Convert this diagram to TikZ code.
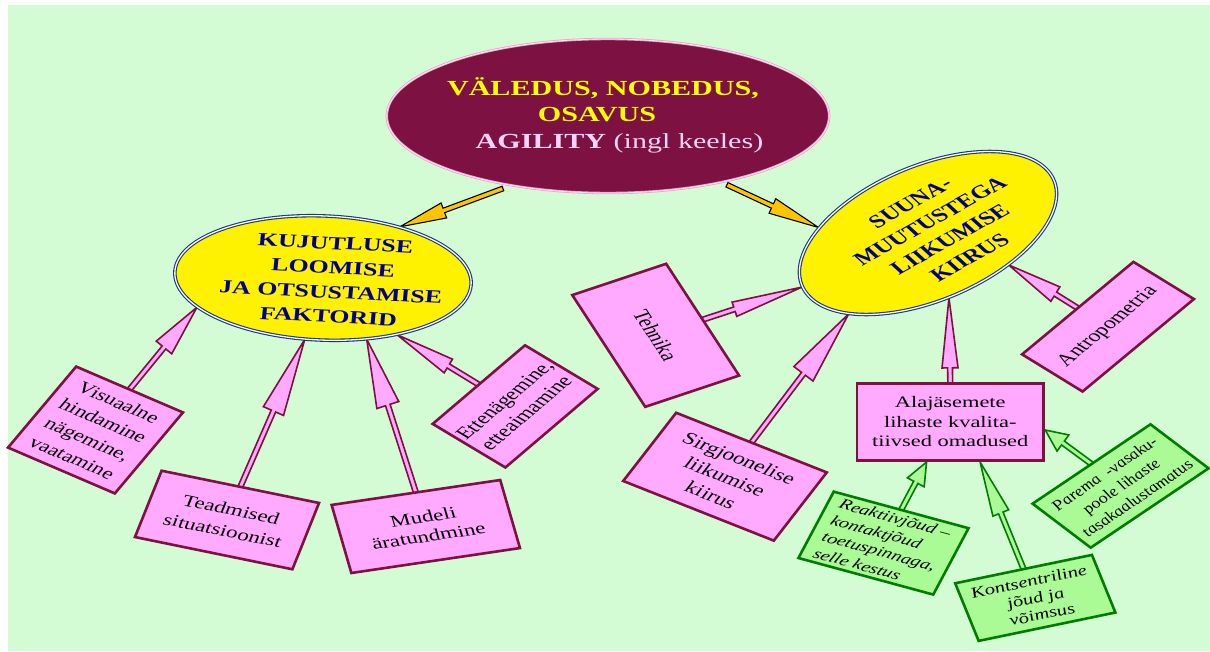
\documentclass[tikz,border=0pt]{standalone}
\usepackage{fontspec}
\setmainfont{Liberation Serif}
\usetikzlibrary{calc,shapes.geometric}
\pgfdeclarelayer{backdrop}
\pgfdeclarelayer{links}
\pgfsetlayers{backdrop,links,main}

\definecolor{bggreen}{RGB}{212,252,212}
\definecolor{maroon}{RGB}{124,17,66}
\definecolor{pinkfill}{RGB}{255,170,255}
\definecolor{greenfill}{RGB}{170,250,150}
\definecolor{darkgreen}{RGB}{0,125,0}
\definecolor{navytext}{RGB}{0,0,140}
\definecolor{rimblue}{RGB}{20,50,170}
\definecolor{rimlight}{RGB}{255,255,190}
\definecolor{rimpink}{RGB}{240,160,205}
\definecolor{rimwhite}{RGB}{255,235,245}
\definecolor{gold}{RGB}{255,196,0}
\definecolor{titleyellow}{RGB}{255,255,0}
\definecolor{titlepink}{RGB}{250,212,250}

% block arrow: style, tail, tip, head length, head half width
\newcommand\shafthalf{2.4pt}
\newcommand\blockarrow[5]{%
  \path (#2) coordinate (ba-tail) (#3) coordinate (ba-tip);
  \path ($(ba-tip)!#4!(ba-tail)$) coordinate (ba-neck);
  \draw[#1] ($(ba-tail)!\shafthalf!90:(ba-tip)$)
    -- ($(ba-neck)!\shafthalf!90:(ba-tip)$)
    -- ($(ba-neck)!#5!90:(ba-tip)$)
    -- (ba-tip)
    -- ($(ba-neck)!#5!-90:(ba-tip)$)
    -- ($(ba-neck)!\shafthalf!-90:(ba-tip)$)
    -- ($(ba-tail)!\shafthalf!-90:(ba-tip)$) -- cycle;
}

\tikzset{
  pinkbox/.style={draw=maroon, line width=2.6pt, fill=pinkfill, inner sep=0pt,
    align=center, font=\fontsize{16.5}{21}\selectfont},
  greenbox/.style={draw=darkgreen, line width=2.6pt, fill=greenfill, inner sep=0pt,
    align=center, font=\itshape\fontsize{14.5}{17.5}\selectfont},
  goal/.style={ellipse, inner sep=0pt, fill=yellow, draw=rimblue, line width=1.1pt,
    double=rimlight, double distance=1.3pt, minimum width=212pt, minimum height=124pt},
  goaltext/.style={align=center, text=navytext, font=\bfseries\fontsize{18.5}{24.5}\selectfont},
  titletext/.style={anchor=base, font=\fontsize{21.5}{26}\selectfont},
  pinkarrow/.style={draw=maroon, fill=pinkfill, line width=1.6pt},
  greenarrow/.style={draw=darkgreen, fill=greenfill, line width=1.6pt},
  goldarrow/.style={draw=black, fill=gold, line width=1.1pt},
}

\begin{document}
\begin{tikzpicture}[x=1pt,y=-1pt]
\useasboundingbox (0,0) rectangle (1210,651);
\begin{pgfonlayer}{backdrop}
  \fill[white] (0,0) rectangle (1210,651);
  \fill[bggreen] (8,5) rectangle (1210,651);
\end{pgfonlayer}

\begin{scope}[x=0.7142857pt, xscale=1.4, every node/.append style={transform shape}]
  % main concept
  \node[ellipse, inner sep=0pt, minimum width=316pt, minimum height=154pt,
        fill=maroon, draw=rimpink, line width=0.8pt, double=rimwhite, double distance=0.8pt]
        (ctr) at (608,116) {};
  \node[titletext, text=titleyellow, font=\bfseries\fontsize{21.5}{26}\selectfont]
        (ctr1) at (603,95) {VÄLEDUS, NOBEDUS,};
  \node[titletext, text=titleyellow, font=\bfseries\fontsize{21.5}{26}\selectfont]
        (ctr2) at (597,121) {OSAVUS};
  \node[titletext, text=titlepink] (ctr3) at (619.5,148) {\textbf{AGILITY} (ingl keeles)};

  % the two factor groups
  \node[goal, rotate=-4] (kuj) at (323,278) {};
  \node[goaltext, rotate=-4] (kujtxt) at (332,280)
        {KUJUTLUSE\\LOOMISE\\JA OTSUSTAMISE\\FAKTORID};
  \node[goal, rotate=38] (suu) at (928,233) {};
  \node[goaltext, rotate=38, font=\bfseries\fontsize{18.5}{23}\selectfont] (suutxt) at (940,230)
        {SUUNA-\\MUUTUSTEGA\\LIIKUMISE\\KIIRUS};

  % factors of the left group
  \node[pinkbox, rotate=-31, minimum width=89pt, minimum height=94.5pt,
        font=\fontsize{16.5}{21.5}\selectfont] (vis) at (95.5,430)
        {Visuaalne\\hindamine\\nägemine,\\vaatamine};
  \node[pinkbox, rotate=-16, minimum width=117pt, minimum height=69pt,
        font=\fontsize{16.5}{22}\selectfont] (tea) at (227,520)
        {Teadmised\\situatsioonist};
  \node[pinkbox, rotate=11.7, minimum width=123pt, minimum height=69.5pt,
        font=\fontsize{16.5}{19.5}\selectfont] (mud) at (425.8,526.5)
        {Mudeli\\äratundmine};
  \node[pinkbox, rotate=50, minimum width=102.6pt, minimum height=67.8pt,
        font=\fontsize{17}{20}\selectfont] (ett) at (515.2,406.4)
        {Ettenägemine,\\etteaimamine};

  % factors of the right group
  \node[pinkbox, rotate=-65, minimum width=123.3pt, minimum height=74pt,
        font=\fontsize{17}{21}\selectfont] (teh) at (655.7,335.3) {Tehnika};
  \node[pinkbox, rotate=-29, minimum width=123pt, minimum height=78pt,
        font=\fontsize{17}{21}\selectfont] (sir) at (725,476.7)
        {Sirgjoonelise\\liikumise\\kiirus};
  \node[pinkbox, minimum width=133pt, minimum height=77.4pt,
        font=\fontsize{16}{19.5}\selectfont] (ala) at (950.3,422)
        {Alajäsemete\\lihaste kvalita-\\tiivsed omadused};
  \node[pinkbox, rotate=49.3, minimum width=122pt, minimum height=57pt,
        font=\fontsize{17}{21}\selectfont] (ant) at (1108,326.7) {Antropometria};

  % muscle properties
  \node[greenbox, rotate=-20.8, minimum width=103pt, minimum height=71pt, align=left]
        (rea) at (883.5,543.1)
        {Reaktiivjõud –\\kontaktjõud\\toetuspinnaga,\\selle kestus};
  \node[greenbox, rotate=16.2, minimum width=101.7pt, minimum height=60pt,
        font=\itshape\fontsize{15}{17}\selectfont] (kon) at (1035.3,597.9)
        {Kontsentriline\\jõud ja\\võimsus};
  \node[greenbox, rotate=43.3, minimum width=115.7pt, minimum height=60.5pt,
        font=\itshape\fontsize{14}{17}\selectfont] (par) at (1120.6,486)
        {Parema~~-vasaku-\\poole lihaste\\tasakaalustamatus};
\end{scope}

\begin{pgfonlayer}{links}
  % from the main concept
  \blockarrow{goldarrow}{$(ctr.224)!-6pt!(ctr.center)$}{kuj.47}{47pt}{8pt}
  \blockarrow{goldarrow}{$(ctr.321)!-5pt!(ctr.center)$}{suu.138}{51pt}{8pt}
  % into the left group
  \blockarrow{pinkarrow}{$(vis.north)!3pt!(vis.center)$}{kuj.202}{52pt}{10pt}
  \blockarrow{pinkarrow}{$(tea.north)!3pt!(tea.center)$}{kuj.262}{78pt}{11pt}
  \blockarrow{pinkarrow}{$(mud.north)!3pt!(mud.center)$}{kuj.301}{69pt}{11.5pt}
  \blockarrow{pinkarrow}{$(ett.north)!3pt!(ett.center)$}{kuj.317}{60pt}{8pt}
  % into the right group
  \blockarrow{pinkarrow}{$(teh.north)!3pt!(teh.center)$}{suu.173}{71pt}{7.5pt}
  \blockarrow{pinkarrow}{$(sir.north)!3pt!(sir.center)$}{suu.197}{75pt}{12pt}
  \blockarrow{pinkarrow}{$(ala.north)!3pt!(ala.center)$}{suu.245}{70pt}{8pt}
  \blockarrow{pinkarrow}{$(ant.north)!3pt!(ant.center)$}{suu.293}{55pt}{8.5pt}
  % into the muscle box
  \blockarrow{greenarrow}{$(rea.north)!3pt!(rea.center)$}{$(ala.south west)!0.375!(ala.south east)$}{23pt}{9.5pt}
  \blockarrow{greenarrow}{$(kon.north)!3pt!(kon.center)$}{$(ala.south west)!0.657!(ala.south east)$}{55pt}{8.5pt}
  \blockarrow{greenarrow}{$(par.north)!3pt!(par.center)$}{$(ala.north east)!0.6!(ala.south east)$}{22pt}{10pt}
\end{pgfonlayer}
\end{tikzpicture}
\end{document}
